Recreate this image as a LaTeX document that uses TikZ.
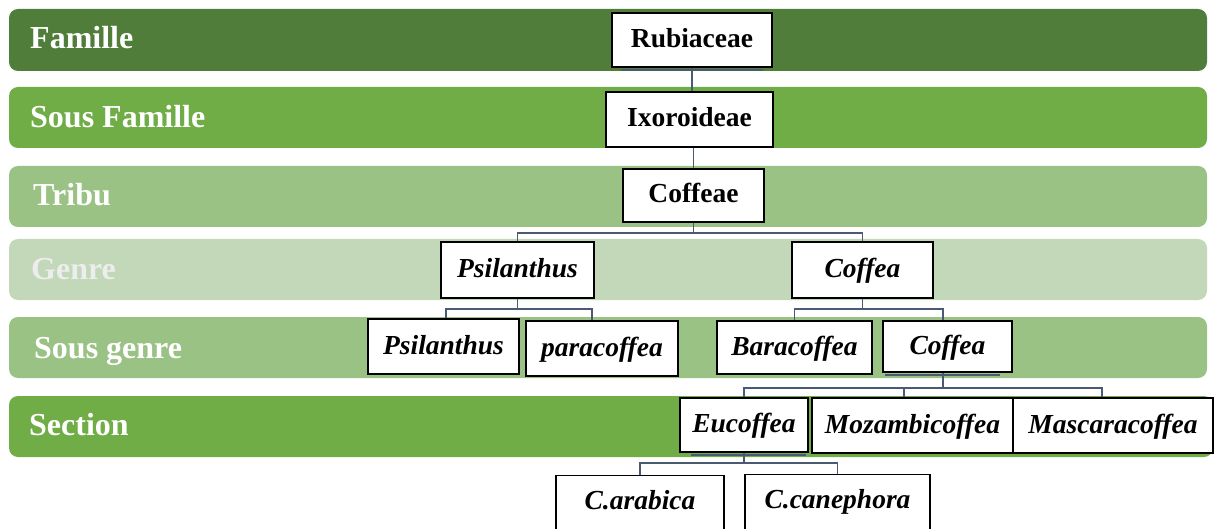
\documentclass[tikz,border=0pt]{standalone}
\usepackage{fontspec}
\setmainfont{Liberation Serif}
\definecolor{famc}{HTML}{507E3A}
\definecolor{midc}{HTML}{70AD47}
\definecolor{softc}{HTML}{9AC284}
\definecolor{palec}{HTML}{C3D8B9}
\definecolor{linkc}{HTML}{4A5A70}
\definecolor{greylabel}{HTML}{EDEDED}
\begin{document}
\begin{tikzpicture}[x=1pt,y=-1pt,
  band/.style={rounded corners=9pt},
  bandlabel/.style={anchor=base west, text=white, inner sep=0,
    font=\fontsize{32}{36}\selectfont\bfseries},
  tbox/.style={draw=black, line width=1.3pt, fill=white, inner sep=0,
    text height=20pt, text depth=5pt,
    font=\fontsize{27.5}{30}\selectfont\bfseries},
  ibox/.style={tbox, font=\fontsize{27.5}{30}\selectfont\bfseries\itshape},
  link/.style={draw=linkc, line width=1.8pt},
  shadowline/.style={draw=linkc, line width=2pt}
]
\useasboundingbox (0,0) rectangle (1214,529);
\clip (0,0) rectangle (1214,529);

% rank bands
\fill[famc, band]  (9,9)   rectangle (1207,71);
\fill[midc, band]  (9,87)  rectangle (1207,148);
\fill[softc, band] (9,166) rectangle (1207,227);
\fill[palec, band] (9,239) rectangle (1207,300);
\fill[softc, band] (9,317) rectangle (1207,378);
\fill[midc, band]  (9,396) rectangle (1213,457);

% rank names
\node[bandlabel] (lfam)  at (30,49)  {Famille};
\node[bandlabel] (lsfam) at (30,128) {Sous Famille};
\node[bandlabel] (ltrib) at (33,206) {Tribu};
\node[bandlabel, text=greylabel] (lgen) at (31,279) {Genre};
\node[bandlabel] (lsgen) at (34,358) {Sous genre};
\node[bandlabel] (lsec)  at (29,435) {Section};

% taxa
\node[tbox, minimum width=160pt, minimum height=54pt] (rub) at (692,40) {Rubiaceae};
\node[tbox, minimum width=167pt, minimum height=55pt] (ixo) at (689.5,119.5) {Ixoroideae};
\node[tbox, minimum width=141pt, minimum height=53pt] (cof) at (693.5,195.5) {Coffeae};

\node[ibox, minimum width=153pt, minimum height=56pt] (psiG) at (517.5,270) {Psilanthus};
\node[ibox, minimum width=141pt, minimum height=56pt] (cofG) at (862.5,270) {Coffea};

\node[ibox, minimum width=151pt, minimum height=55pt] (psiSG) at (443.5,346.5) {Psilanthus};
\node[ibox, minimum width=152pt, minimum height=55pt] (para)  at (602,348.5) {paracoffea};
\node[ibox, minimum width=155pt, minimum height=53pt] (bara)  at (794.5,347.5) {Baracoffea};
\node[ibox, minimum width=129pt, minimum height=51pt] (cofSG) at (947.5,346.5) {Coffea};

\node[ibox, minimum width=128pt, minimum height=54pt] (euc) at (744,425) {Eucoffea};
\node[ibox, minimum width=201pt, minimum height=55pt] (moz)  at (912.5,425.5) {Mozambicoffea};
\node[ibox, minimum width=200pt, minimum height=55pt] (masc) at (1113,425.5) {Mascaracoffea};

\node[ibox, anchor=north, text depth=40pt, minimum width=168pt, minimum height=88pt] (arab) at (640,475) {C.arabica};
\node[ibox, anchor=north, text depth=40pt, minimum width=185pt, minimum height=88pt] (cane) at (837.5,474) {C.canephora};

% thin shadows under some boxes
\draw[shadowline] ([xshift=10pt,yshift=-2pt]rub.south west) -- ([xshift=-10pt,yshift=-2pt]rub.south east);
\draw[shadowline] ([xshift=3pt,yshift=-2pt]cofSG.south west) -- ([xshift=-13pt,yshift=-2pt]cofSG.south east);
\draw[shadowline] ([xshift=12pt,yshift=-2pt]euc.south west) -- ([xshift=-3pt,yshift=-2pt]euc.south east);

% connectors
\draw[link] (rub.south) -- (rub.south |- ixo.north);
\draw[link] (cof.north) -- (cof.north |- ixo.south);

\draw[link] (cof.south) -- ++(0,10) -| (psiG.north);
\draw[link] (cof.south) -- ++(0,10) -| (cofG.north);

\draw[link] (psiG.south) -- ++(0,10) -| ([xshift=2.5pt]psiSG.north);
\draw[link] (psiG.south) -- ++(0,10) -| ([xshift=-10pt]para.north);

\draw[link] (cofG.south) -- ++(0,10) -| (bara.north);
\draw[link] (cofG.south) -- ++(0,10) -| ([xshift=-4.5pt]cofSG.north);

\draw[link] ([xshift=-4.5pt]cofSG.south) -- ++(0,15) -| (euc.north);
\draw[link] ([xshift=-4.5pt]cofSG.south) -- ++(0,15) -| ([xshift=-8.5pt]moz.north);
\draw[link] ([xshift=-4.5pt]cofSG.south) -- ++(0,15) -| ([xshift=-11pt]masc.north);

\draw[link] (euc.south) -- ++(0,10) -| (arab.north);
\draw[link] (euc.south) -- ++(0,10) -| (cane.north);
\end{tikzpicture}
\end{document}
